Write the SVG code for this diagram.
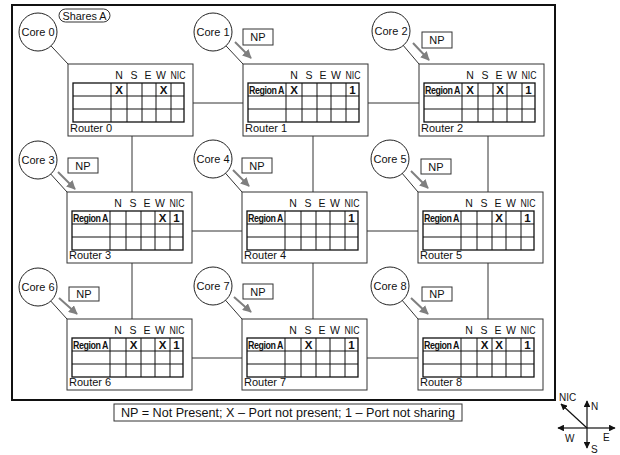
<svg xmlns="http://www.w3.org/2000/svg" xmlns:xlink="http://www.w3.org/1999/xlink" width="620" height="455" viewBox="0 0 620 455">
<style>
text{font-family:"Liberation Sans",Arial,sans-serif;fill:#111}
.frame{fill:none;stroke:#111;stroke-width:2}
.rbox{fill:#fff;stroke:#333;stroke-width:1}
.tb{fill:none;stroke:#111;stroke-width:1.3}
.tl{fill:none;stroke:#111;stroke-width:1}
.core{fill:#fff;stroke:#222;stroke-width:1}
.np{fill:#fff;stroke:#333;stroke-width:1}
.link{stroke:#333;stroke-width:1;fill:none}
.garrow{stroke:#7f7f7f;stroke-width:2;fill:none;marker-end:url(#gh)}
.carrow{stroke:#111;stroke-width:1.2;fill:none;marker-end:url(#bh)}
.lbl{font-size:11px}
.hd{font-size:10.5px;text-anchor:middle}
.nic{font-size:10.5px}
.cell{font-size:11.5px;font-weight:bold;text-anchor:middle}
.reg{font-size:10px;font-weight:bold;letter-spacing:-0.5px}
.ct{font-size:11px;text-anchor:middle}
.cmp{font-size:10px}
</style>
<defs>
<marker id="gh" viewBox="0 0 10 10" refX="9" refY="5" markerWidth="4.5" markerHeight="4.5" orient="auto"><path d="M0 0L10 5L0 10z" fill="#7f7f7f"/></marker>
<marker id="bh" viewBox="0 0 10 10" refX="9" refY="5" markerWidth="5.5" markerHeight="5.5" orient="auto"><path d="M0 0L10 5L0 10z" fill="#111"/></marker>
<g id="tbl">
<rect x="5" y="19" width="111" height="39" class="tb"/>
<path class="tl" d="M5 32H116M5 45H116M43 19V58M59 19V58M74 19V58M88 19V58M103 19V58"/>
</g>
</defs>
<rect class="frame" x="12" y="5" width="543" height="395"/>
<g id="connectors">
<path class="link" d="M193 103H243M368 103H419M192 231H242M367 231H418M192 358H242M367 358H418"/>
<path class="link" d="M132 136V192M313 136V192M488 136V192M132 263V319M313 263V319M488 263V319"/>
<path class="link" d="M38 32L68 64M213 32L243 64M391 31L419 64M38 160L67 192M213 159L242 192M390 159L418 192M38 287L67 319M213 286L242 319M390 286L418 319"/>
<line class="garrow" x1="235" y1="42" x2="251" y2="58"/>
<line class="garrow" x1="413" y1="43" x2="429" y2="60"/>
<line class="garrow" x1="58" y1="172" x2="75" y2="189"/>
<line class="garrow" x1="233" y1="170" x2="249" y2="186"/>
<line class="garrow" x1="411" y1="171" x2="428" y2="188"/>
<line class="garrow" x1="59" y1="298" x2="77" y2="314"/>
<line class="garrow" x1="234" y1="297" x2="251" y2="312"/>
<line class="garrow" x1="411" y1="298" x2="428" y2="314"/>
</g>
<g id="core0"><circle class="core" cx="38" cy="32" r="19"/><text class="ct" x="38" y="36">Core 0</text></g>
<g id="shares"><rect class="np" x="59" y="9" width="51" height="13" rx="6.5"/><text class="ct" x="84.5" y="19.5" font-size="10.5" textLength="44" lengthAdjust="spacingAndGlyphs">Shares A</text></g>
<g id="core1"><circle class="core" cx="213" cy="32" r="19"/><text class="ct" x="213" y="36">Core 1</text><rect class="np" x="243" y="29" width="30" height="16"/><text class="ct" x="258" y="41">NP</text></g>
<g id="core2"><circle class="core" cx="391" cy="31" r="19"/><text class="ct" x="391" y="35">Core 2</text><rect class="np" x="422" y="32" width="30" height="16"/><text class="ct" x="437" y="44">NP</text></g>
<g id="core3"><circle class="core" cx="38" cy="160" r="19"/><text class="ct" x="38" y="164">Core 3</text><rect class="np" x="68" y="158" width="30" height="15"/><text class="ct" x="83" y="169.5">NP</text></g>
<g id="core4"><circle class="core" cx="213" cy="159" r="19"/><text class="ct" x="213" y="163">Core 4</text><rect class="np" x="242" y="158" width="30" height="15"/><text class="ct" x="257" y="169.5">NP</text></g>
<g id="core5"><circle class="core" cx="390" cy="159" r="19"/><text class="ct" x="390" y="163">Core 5</text><rect class="np" x="421" y="159" width="30" height="15"/><text class="ct" x="436" y="170.5">NP</text></g>
<g id="core6"><circle class="core" cx="38" cy="287" r="19"/><text class="ct" x="38" y="291">Core 6</text><rect class="np" x="69" y="287" width="30" height="14"/><text class="ct" x="84" y="298">NP</text></g>
<g id="core7"><circle class="core" cx="213" cy="286" r="19"/><text class="ct" x="213" y="290">Core 7</text><rect class="np" x="243" y="284" width="30" height="15"/><text class="ct" x="258" y="295.5">NP</text></g>
<g id="core8"><circle class="core" cx="390" cy="286" r="19"/><text class="ct" x="390" y="290">Core 8</text><rect class="np" x="422" y="287" width="30" height="14"/><text class="ct" x="437" y="298">NP</text></g>

<g id="router0" transform="translate(68,64)">
<rect class="rbox" width="125" height="72"/><use xlink:href="#tbl"/>
<text class="hd" x="51" y="14.5">N</text><text class="hd" x="66" y="14.5">S</text><text class="hd" x="80" y="14.5">E</text><text class="hd" x="93" y="14.5">W</text><text class="nic" x="102.5" y="14.5" textLength="15" lengthAdjust="spacingAndGlyphs">NIC</text>
<text class="cell" x="51" y="30">X</text><text class="cell" x="95.5" y="30">X</text>
<text class="lbl" x="2" y="68">Router 0</text>
</g>
<g id="router1" transform="translate(243,64)">
<rect class="rbox" width="125" height="72"/><use xlink:href="#tbl"/>
<text class="hd" x="51" y="14.5">N</text><text class="hd" x="66" y="14.5">S</text><text class="hd" x="80" y="14.5">E</text><text class="hd" x="93" y="14.5">W</text><text class="nic" x="102.5" y="14.5" textLength="15" lengthAdjust="spacingAndGlyphs">NIC</text>
<text class="reg" x="6" y="29.5" textLength="35" lengthAdjust="spacingAndGlyphs">Region A</text>
<text class="cell" x="51" y="30">X</text><text class="cell" x="109.5" y="30">1</text>
<text class="lbl" x="2" y="68">Router 1</text>
</g>
<g id="router2" transform="translate(419,64)">
<rect class="rbox" width="125" height="72"/><use xlink:href="#tbl"/>
<text class="hd" x="51" y="14.5">N</text><text class="hd" x="66" y="14.5">S</text><text class="hd" x="80" y="14.5">E</text><text class="hd" x="93" y="14.5">W</text><text class="nic" x="102.5" y="14.5" textLength="15" lengthAdjust="spacingAndGlyphs">NIC</text>
<text class="reg" x="6" y="29.5" textLength="35" lengthAdjust="spacingAndGlyphs">Region A</text>
<text class="cell" x="51" y="30">X</text><text class="cell" x="81" y="30">X</text><text class="cell" x="109.5" y="30">1</text>
<text class="lbl" x="2" y="68">Router 2</text>
</g>
<g id="router3" transform="translate(67,192)">
<rect class="rbox" width="125" height="71"/><use xlink:href="#tbl"/>
<text class="hd" x="51" y="14.5">N</text><text class="hd" x="66" y="14.5">S</text><text class="hd" x="80" y="14.5">E</text><text class="hd" x="93" y="14.5">W</text><text class="nic" x="102.5" y="14.5" textLength="15" lengthAdjust="spacingAndGlyphs">NIC</text>
<text class="reg" x="6" y="29.5" textLength="35" lengthAdjust="spacingAndGlyphs">Region A</text>
<text class="cell" x="95.5" y="30">X</text><text class="cell" x="109.5" y="30">1</text>
<text class="lbl" x="2" y="67">Router 3</text>
</g>
<g id="router4" transform="translate(242,192)">
<rect class="rbox" width="125" height="71"/><use xlink:href="#tbl"/>
<text class="hd" x="51" y="14.5">N</text><text class="hd" x="66" y="14.5">S</text><text class="hd" x="80" y="14.5">E</text><text class="hd" x="93" y="14.5">W</text><text class="nic" x="102.5" y="14.5" textLength="15" lengthAdjust="spacingAndGlyphs">NIC</text>
<text class="reg" x="6" y="29.5" textLength="35" lengthAdjust="spacingAndGlyphs">Region A</text>
<text class="cell" x="109.5" y="30">1</text>
<text class="lbl" x="2" y="67">Router 4</text>
</g>
<g id="router5" transform="translate(418,192)">
<rect class="rbox" width="125" height="71"/><use xlink:href="#tbl"/>
<text class="hd" x="51" y="14.5">N</text><text class="hd" x="66" y="14.5">S</text><text class="hd" x="80" y="14.5">E</text><text class="hd" x="93" y="14.5">W</text><text class="nic" x="102.5" y="14.5" textLength="15" lengthAdjust="spacingAndGlyphs">NIC</text>
<text class="reg" x="6" y="29.5" textLength="35" lengthAdjust="spacingAndGlyphs">Region A</text>
<text class="cell" x="81" y="30">X</text><text class="cell" x="109.5" y="30">1</text>
<text class="lbl" x="2" y="67">Router 5</text>
</g>
<g id="router6" transform="translate(67,319)">
<rect class="rbox" width="125" height="71"/><use xlink:href="#tbl"/>
<text class="hd" x="51" y="14.5">N</text><text class="hd" x="66" y="14.5">S</text><text class="hd" x="80" y="14.5">E</text><text class="hd" x="93" y="14.5">W</text><text class="nic" x="102.5" y="14.5" textLength="15" lengthAdjust="spacingAndGlyphs">NIC</text>
<text class="reg" x="6" y="29.5" textLength="35" lengthAdjust="spacingAndGlyphs">Region A</text>
<text class="cell" x="66.5" y="30">X</text><text class="cell" x="95.5" y="30">X</text><text class="cell" x="109.5" y="30">1</text>
<text class="lbl" x="2" y="67">Router 6</text>
</g>
<g id="router7" transform="translate(242,319)">
<rect class="rbox" width="125" height="71"/><use xlink:href="#tbl"/>
<text class="hd" x="51" y="14.5">N</text><text class="hd" x="66" y="14.5">S</text><text class="hd" x="80" y="14.5">E</text><text class="hd" x="93" y="14.5">W</text><text class="nic" x="102.5" y="14.5" textLength="15" lengthAdjust="spacingAndGlyphs">NIC</text>
<text class="reg" x="6" y="29.5" textLength="35" lengthAdjust="spacingAndGlyphs">Region A</text>
<text class="cell" x="66.5" y="30">X</text><text class="cell" x="109.5" y="30">1</text>
<text class="lbl" x="2" y="67">Router 7</text>
</g>
<g id="router8" transform="translate(418,319)">
<rect class="rbox" width="125" height="71"/><use xlink:href="#tbl"/>
<text class="hd" x="51" y="14.5">N</text><text class="hd" x="66" y="14.5">S</text><text class="hd" x="80" y="14.5">E</text><text class="hd" x="93" y="14.5">W</text><text class="nic" x="102.5" y="14.5" textLength="15" lengthAdjust="spacingAndGlyphs">NIC</text>
<text class="reg" x="6" y="29.5" textLength="35" lengthAdjust="spacingAndGlyphs">Region A</text>
<text class="cell" x="66.5" y="30">X</text><text class="cell" x="81" y="30">X</text><text class="cell" x="109.5" y="30">1</text>
<text class="lbl" x="2" y="67">Router 8</text>
</g>

<g id="legend">
<rect class="np" x="114" y="404" width="348" height="17"/>
<text x="121" y="417" font-size="12" textLength="334" lengthAdjust="spacingAndGlyphs">NP = Not Present; X – Port not present; 1 – Port not sharing</text>
</g>
<g id="compass">
<line class="carrow" x1="587" y1="428" x2="558" y2="428"/>
<line class="carrow" x1="587" y1="428" x2="615" y2="428"/>
<line class="carrow" x1="587" y1="428" x2="587" y2="401"/>
<line class="carrow" x1="587" y1="428" x2="587" y2="448"/>
<line class="carrow" x1="587" y1="428" x2="561" y2="404"/>
<text class="cmp" x="559" y="401">NIC</text>
<text class="cmp" x="591" y="410">N</text>
<text class="cmp" x="565" y="442">W</text>
<text class="cmp" x="603" y="441">E</text>
<text class="cmp" x="591" y="453">S</text>
</g>
</svg>
